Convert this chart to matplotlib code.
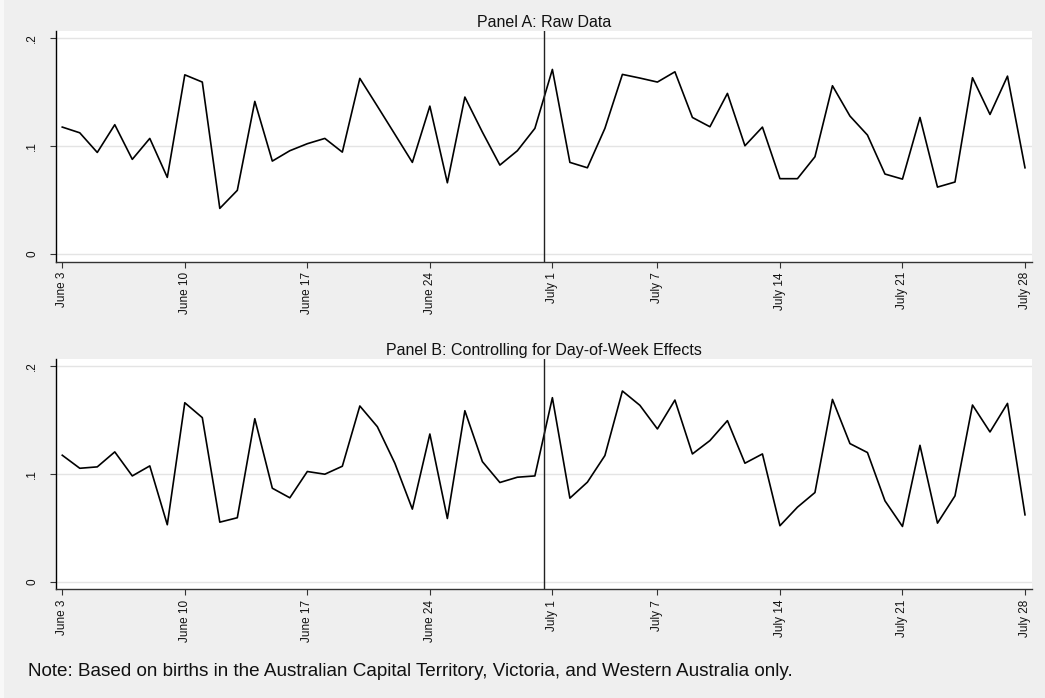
import numpy as np
import pandas as pd
import matplotlib
matplotlib.use("Agg")
import matplotlib.pyplot as plt
from matplotlib.patches import Rectangle

plt.rcParams['font.family'] = ['Liberation Sans', 'DejaVu Sans']

dates = pd.date_range("2000-06-03", "2000-07-28", freq="D")

raw = [0.1176, 0.1123, 0.0941, 0.1198, 0.0877, 0.1071, 0.0710, 0.1660, 0.1593, 0.0423,
       0.0590, 0.1414, 0.0861, 0.0957, 0.1022, 0.1071, 0.0944, 0.1627, 0.1370, 0.1110,
       0.0849, 0.1370, 0.0660, 0.1454, 0.1130, 0.0824, 0.0957, 0.1164, 0.1710, 0.0849,
       0.0799, 0.1164, 0.1664, 0.1630, 0.1593, 0.1688, 0.1265, 0.1179, 0.1488, 0.1003,
       0.1176, 0.0698, 0.0698, 0.0901, 0.1559, 0.1278, 0.1102, 0.0741, 0.0694, 0.1265,
       0.0620, 0.0667, 0.1633, 0.1293, 0.1648, 0.0799]

dow_adj = [0.1173, 0.1052, 0.1065, 0.1204, 0.0981, 0.1074, 0.0528, 0.1660, 0.1522, 0.0552,
           0.0593, 0.1512, 0.0867, 0.0778, 0.1022, 0.0997, 0.1071, 0.1630, 0.1438, 0.1099,
           0.0673, 0.1370, 0.0586, 0.1586, 0.1114, 0.0920, 0.0969, 0.0981, 0.1707, 0.0775,
           0.0923, 0.1170, 0.1769, 0.1636, 0.1417, 0.1685, 0.1185, 0.1309, 0.1494, 0.1099,
           0.1185, 0.0519, 0.0691, 0.0827, 0.1691, 0.1281, 0.1198, 0.0750, 0.0512, 0.1265,
           0.0543, 0.0796, 0.1639, 0.1389, 0.1654, 0.0620]

tick_dates = pd.to_datetime(["2000-06-03", "2000-06-10", "2000-06-17", "2000-06-24",
                             "2000-07-01", "2000-07-07", "2000-07-14", "2000-07-21", "2000-07-28"])
tick_labels = ["June 3", "June 10", "June 17", "June 24", "July 1", "July 7",
               "July 14", "July 21", "July 28"]
y_ticks = [0, 0.1, 0.2]
y_labels = ["0", ".1", ".2"]
cutoff = pd.Timestamp("2000-06-30 12:00")

titles = ["Panel A: Raw Data", "Panel B: Controlling for Day-of-Week Effects"]
series = [raw, dow_adj]

W, H = 1045, 698
fig = plt.figure(figsize=(W / 100, H / 100), dpi=100)
fig.patch.set_facecolor("#efefef")
fig.patches.append(Rectangle((0, 0), 4 / W, 1, transform=fig.transFigure,
                             facecolor="#f8f8f8", edgecolor="none", zorder=0))

left = 55.7 / W
width = (1032 - 55.7) / W
panels = [(31, 261.7), (359, 589.3)]

for (top_px, bot_px), title, vals in zip(panels, titles, series):
    ax = fig.add_axes([left, 1 - bot_px / H, width, (bot_px - top_px) / H])
    ax.set_facecolor("white")
    ax.plot(dates, vals, color="black", lw=1.2, zorder=3)
    ax.axvline(cutoff, color="#222222", lw=1.0, zorder=4)
    ax.set_xlim(dates[0] - pd.Timedelta(hours=9), dates[-1] + pd.Timedelta(hours=9.6))
    ax.set_ylim(-0.0071, 0.2066)
    ax.set_yticks(y_ticks)
    ax.set_yticklabels(y_labels, rotation=90, va="center", fontsize=8.5)
    ax.set_xticks(tick_dates)
    ax.set_xticklabels(tick_labels, rotation=90, fontsize=8.5)
    ax.grid(axis="y", color="#e4e4e4", lw=1.0, zorder=1)
    ax.set_axisbelow(True)
    for s in ["top", "right"]:
        ax.spines[s].set_visible(False)
    ax.spines["left"].set_color("black")
    ax.spines["bottom"].set_color("#333333")
    ax.spines["left"].set_linewidth(1.0)
    ax.spines["bottom"].set_linewidth(1.0)
    ax.tick_params(axis="both", length=4.5, width=0.8, color="#333333",
                   labelcolor="#111111")
    ax.tick_params(axis="x", pad=3)
    ax.tick_params(axis="y", pad=8)
    ax.set_title(title, fontsize=11.5, pad=3, color="#111111")

fig.text(28 / W, 1 - 671 / H,
         "Note: Based on births in the Australian Capital Territory, Victoria, and Western Australia only.",
         fontsize=13.6, va="center", ha="left", color="#111111")

fig.savefig("out.png", dpi=100, facecolor=fig.get_facecolor())
